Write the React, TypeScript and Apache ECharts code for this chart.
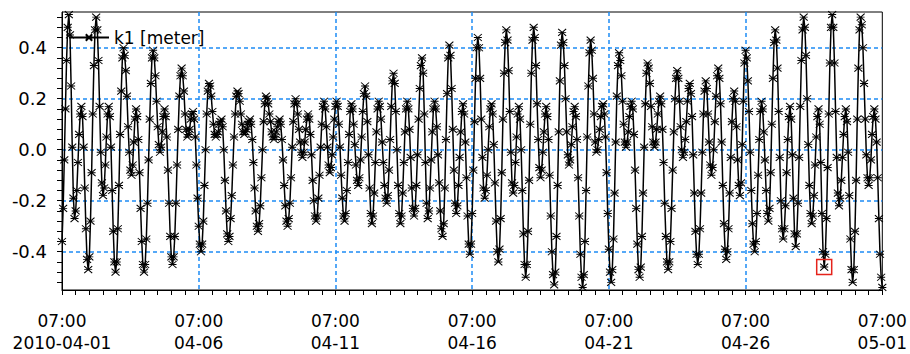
import React, { useEffect, useRef } from "react";
import * as echarts from "echarts";

// ---- data ----
const seriesName = "k1 [meter]";
// hourly water level from 2010-04-01 07:00 (hour 0) to 2010-05-01 07:00 (hour 720)
const k1Level: number[] = [
  -0.36, -0.23, -0.04, 0.16, 0.35, 0.48, 0.53, 0.45, 0.25, 0.01, -0.19, -0.27, -0.24, -0.16, -0.05, 0.06, 0.14, 0.17, 0.13, 0.01, -0.15, -0.31, -0.43, -0.47,
  -0.42, -0.28, -0.09, 0.14, 0.33, 0.47, 0.52, 0.47, 0.35, 0.17, -0.01, -0.13, -0.18, -0.15, -0.06, 0.05, 0.14, 0.17, 0.13, 0.01, -0.16, -0.32, -0.44, -0.48,
  -0.44, -0.31, -0.14, 0.06, 0.23, 0.36, 0.40, 0.37, 0.31, 0.21, 0.09, -0.01, -0.08, -0.10, -0.06, 0.03, 0.12, 0.16, 0.13, 0.04, -0.09, -0.23, -0.36, -0.45,
  -0.48, -0.45, -0.35, -0.21, -0.04, 0.12, 0.26, 0.36, 0.39, 0.36, 0.29, 0.19, 0.09, 0.02, -0.01, 0.01, 0.07, 0.13, 0.16, 0.13, 0.05, -0.08, -0.21, -0.34,
  -0.42, -0.45, -0.42, -0.34, -0.21, -0.06, 0.08, 0.21, 0.29, 0.32, 0.29, 0.23, 0.14, 0.08, 0.05, 0.06, 0.08, 0.12, 0.14, 0.15, 0.12, 0.05, -0.06, -0.19,
  -0.30, -0.37, -0.40, -0.37, -0.28, -0.14, 0.00, 0.14, 0.23, 0.26, 0.25, 0.21, 0.15, 0.10, 0.06, 0.05, 0.06, 0.07, 0.10, 0.11, 0.12, 0.09, 0.00, -0.12,
  -0.24, -0.33, -0.36, -0.34, -0.27, -0.18, -0.06, 0.05, 0.14, 0.21, 0.23, 0.22, 0.19, 0.14, 0.10, 0.07, 0.06, 0.07, 0.08, 0.10, 0.11, 0.12, 0.10, 0.04,
  -0.05, -0.15, -0.24, -0.30, -0.32, -0.29, -0.22, -0.11, 0.00, 0.11, 0.18, 0.21, 0.20, 0.18, 0.14, 0.11, 0.07, 0.05, 0.04, 0.05, 0.07, 0.09, 0.11, 0.12,
  0.10, 0.04, -0.04, -0.14, -0.22, -0.28, -0.30, -0.27, -0.21, -0.11, 0.01, 0.11, 0.18, 0.20, 0.18, 0.14, 0.08, 0.03, -0.01, -0.03, -0.01, 0.03, 0.08, 0.12,
  0.14, 0.12, 0.06, -0.02, -0.12, -0.20, -0.26, -0.28, -0.26, -0.19, -0.10, 0.01, 0.10, 0.17, 0.19, 0.16, 0.09, 0.01, -0.06, -0.09, -0.07, -0.02, 0.05, 0.12,
  0.17, 0.19, 0.17, 0.10, 0.01, -0.10, -0.19, -0.26, -0.28, -0.25, -0.16, -0.05, 0.06, 0.15, 0.18, 0.16, 0.10, 0.02, -0.06, -0.12, -0.14, -0.11, -0.04, 0.05,
  0.15, 0.22, 0.25, 0.21, 0.11, -0.02, -0.15, -0.25, -0.29, -0.26, -0.17, -0.05, 0.07, 0.16, 0.19, 0.17, 0.12, 0.03, -0.05, -0.14, -0.19, -0.21, -0.18, -0.08,
  0.04, 0.17, 0.27, 0.30, 0.26, 0.15, 0.00, -0.14, -0.25, -0.29, -0.26, -0.17, -0.05, 0.07, 0.16, 0.19, 0.16, 0.08, -0.03, -0.15, -0.23, -0.26, -0.23, -0.14,
  -0.02, 0.12, 0.24, 0.33, 0.36, 0.30, 0.14, -0.05, -0.21, -0.27, -0.24, -0.15, -0.04, 0.07, 0.16, 0.19, 0.16, 0.09, -0.02, -0.13, -0.24, -0.31, -0.34, -0.29,
  -0.15, 0.04, 0.22, 0.36, 0.41, 0.37, 0.24, 0.08, -0.08, -0.21, -0.25, -0.22, -0.14, -0.03, 0.07, 0.15, 0.18, 0.14, 0.03, -0.11, -0.26, -0.37, -0.41, -0.37,
  -0.25, -0.08, 0.11, 0.28, 0.40, 0.44, 0.40, 0.28, 0.12, -0.03, -0.15, -0.19, -0.16, -0.10, 0.00, 0.09, 0.16, 0.18, 0.14, 0.02, -0.13, -0.28, -0.40, -0.44,
  -0.39, -0.27, -0.09, 0.12, 0.30, 0.42, 0.47, 0.43, 0.31, 0.15, -0.01, -0.13, -0.17, -0.14, -0.05, 0.05, 0.14, 0.17, 0.12, 0.00, -0.16, -0.33, -0.45, -0.50,
  -0.45, -0.32, -0.12, 0.10, 0.30, 0.43, 0.48, 0.44, 0.33, 0.18, 0.04, -0.07, -0.11, -0.08, -0.01, 0.07, 0.14, 0.17, 0.13, 0.04, -0.10, -0.26, -0.40, -0.49,
  -0.53, -0.48, -0.34, -0.14, 0.07, 0.27, 0.41, 0.46, 0.42, 0.33, 0.20, 0.07, -0.02, -0.06, -0.04, 0.02, 0.09, 0.15, 0.17, 0.13, 0.04, -0.11, -0.26, -0.41,
  -0.50, -0.54, -0.49, -0.36, -0.16, 0.05, 0.25, 0.38, 0.43, 0.39, 0.28, 0.14, 0.03, -0.01, 0.00, 0.04, 0.08, 0.13, 0.17, 0.18, 0.14, 0.05, -0.09, -0.25,
  -0.39, -0.48, -0.52, -0.47, -0.35, -0.17, 0.03, 0.21, 0.33, 0.38, 0.35, 0.29, 0.19, 0.10, 0.03, 0.01, 0.03, 0.07, 0.13, 0.17, 0.19, 0.16, 0.06, -0.08,
  -0.23, -0.37, -0.47, -0.50, -0.46, -0.34, -0.17, 0.01, 0.18, 0.30, 0.34, 0.32, 0.26, 0.17, 0.09, 0.03, 0.01, 0.03, 0.08, 0.14, 0.19, 0.21, 0.18, 0.08,
  -0.05, -0.21, -0.34, -0.44, -0.47, -0.44, -0.36, -0.23, -0.08, 0.07, 0.20, 0.28, 0.31, 0.28, 0.19, 0.09, 0.00, -0.03, -0.01, 0.04, 0.11, 0.19, 0.24, 0.26,
  0.22, 0.13, -0.02, -0.17, -0.32, -0.41, -0.45, -0.41, -0.31, -0.17, -0.01, 0.14, 0.23, 0.27, 0.24, 0.14, 0.03, -0.06, -0.10, -0.07, 0.00, 0.11, 0.21, 0.29,
  0.32, 0.28, 0.18, 0.03, -0.14, -0.29, -0.39, -0.43, -0.40, -0.31, -0.17, -0.03, 0.11, 0.20, 0.23, 0.19, 0.09, -0.04, -0.14, -0.18, -0.13, 0.02, 0.19, 0.34,
  0.39, 0.36, 0.27, 0.15, -0.01, -0.16, -0.29, -0.37, -0.40, -0.36, -0.25, -0.10, 0.04, 0.15, 0.19, 0.16, 0.07, -0.04, -0.16, -0.25, -0.28, -0.23, -0.09, 0.10,
  0.28, 0.42, 0.47, 0.43, 0.32, 0.15, -0.03, -0.20, -0.31, -0.35, -0.31, -0.22, -0.09, 0.04, 0.13, 0.17, 0.12, -0.02, -0.19, -0.33, -0.38, -0.33, -0.21, -0.03,
  0.17, 0.35, 0.47, 0.52, 0.48, 0.37, 0.20, 0.02, -0.14, -0.25, -0.29, -0.26, -0.18, -0.06, 0.05, 0.13, 0.16, 0.10, -0.05, -0.25, -0.40, -0.46, -0.41, -0.27,
  -0.07, 0.14, 0.34, 0.48, 0.53, 0.48, 0.34, 0.15, -0.03, -0.17, -0.22, -0.19, -0.12, -0.03, 0.06, 0.13, 0.16, 0.11, -0.01, -0.18, -0.35, -0.47, -0.52, -0.47,
  -0.32, -0.12, 0.12, 0.32, 0.47, 0.52, 0.49, 0.40, 0.26, 0.12, -0.02, -0.11, -0.14, -0.11, -0.04, 0.06, 0.13, 0.16, 0.12, 0.03, -0.11, -0.27, -0.41, -0.50,
  -0.54,
];

// x axis tick labels (every 5 days at 07:00)
const tickTimes = ["07:00", "07:00", "07:00", "07:00", "07:00", "07:00", "07:00"];
const tickDates = ["2010-04-01", "04-06", "04-11", "04-16", "04-21", "04-26", "05-01"];
const hoursPerMajorTick = 120;
const totalHours = 720;

// y axis
const yMin = -0.55;
const yMax = 0.54;
const yLabelValues = [-0.4, -0.2, 0, 0.2, 0.4];
const yMinorTickValues = [
  -0.52, -0.48, -0.44, -0.4, -0.36, -0.32, -0.28, -0.24, -0.2, -0.16, -0.12, -0.08, -0.04, 0,
  0.04, 0.08, 0.12, 0.16, 0.2, 0.24, 0.28, 0.32, 0.36, 0.4, 0.44, 0.48, 0.52,
];

// the highlighted (red square) sample
const highlightHour = 669;

const FONT = "DejaVu Sans";
const GRID_BLUE = "#1e8cf5";
const markerPath = "path://M0,0L8,7M8,0L0,7M0,3.5L8,3.5";

export default function App() {
  const ref = useRef<HTMLDivElement>(null);

  useEffect(() => {
    if (!ref.current) return;
    const chart = echarts.init(ref.current, undefined, { renderer: "svg" });
    const data = k1Level.map((v, i) => [i, v]);
    const gridLine = { color: GRID_BLUE, type: [4, 3], width: 1.5, opacity: 1 };

    const option: any = {
      animation: false,
      backgroundColor: "#ffffff",
      grid: {
        left: 62,
        right: 25,
        top: 12,
        bottom: 60,
        show: true,
        borderColor: "#000",
        borderWidth: 1,
        backgroundColor: "transparent",
      },
      legend: {
        show: true,
        left: 63,
        top: 24,
        itemWidth: 40,
        itemHeight: 8,
        data: [seriesName],
        textStyle: { color: "#000", fontFamily: FONT, fontSize: 17 },
      },
      xAxis: {
        type: "value",
        min: 0,
        max: totalHours,
        interval: hoursPerMajorTick,
        axisLine: { show: true, onZero: false, lineStyle: { color: "#000", width: 1 } },
        axisTick: { show: true, length: 5, lineStyle: { color: "#000", width: 1 } },
        minorTick: { show: true, splitNumber: 10, length: 5, lineStyle: { color: "#000", width: 1 } },
        splitLine: {
          show: true,
          showMinLine: false,
          showMaxLine: false,
          lineStyle: gridLine,
        },
        axisLabel: {
          show: true,
          showMinLabel: true,
          showMaxLabel: true,
          color: "#000",
          fontFamily: FONT,
          fontSize: 17,
          lineHeight: 22,
          margin: 20,
          formatter: (v: number) => {
            const i = Math.round(v / hoursPerMajorTick);
            return tickTimes[i] + "\n" + tickDates[i];
          },
        },
      },
      yAxis: [
        {
          type: "value",
          min: yMin,
          max: yMax,
          position: "left",
          axisLine: { show: true, onZero: false, lineStyle: { color: "#000", width: 1 } },
          axisTick: { show: false },
          splitLine: {
            show: true,
            showMinLine: false,
            showMaxLine: false,
            lineStyle: gridLine,
          },
          axisLabel: {
            show: true,
            customValues: yLabelValues,
            color: "#000",
            fontFamily: FONT,
            fontSize: 18,
            margin: 15,
            formatter: (v: number) => v.toFixed(1),
          },
        },
        {
          type: "value",
          min: yMin,
          max: yMax,
          position: "left",
          axisLine: { show: false },
          splitLine: { show: false },
          axisLabel: { show: false },
          axisTick: {
            show: true,
            customValues: yMinorTickValues,
            length: 5,
            lineStyle: { color: "#000", width: 1 },
          },
        },
      ],
      series: [
        {
          name: seriesName,
          type: "line",
          xAxisIndex: 0,
          yAxisIndex: 0,
          data,
          symbol: markerPath,
          symbolSize: [8, 7],
          showAllSymbol: true,
          z: 3,
          lineStyle: { color: "#000", width: 1.5 },
          itemStyle: { color: "#000", borderColor: "#000", borderWidth: 1 },
          emphasis: { disabled: true },
          markPoint: {
            silent: true,
            symbol: "rect",
            symbolSize: 15,
            label: { show: false },
            itemStyle: { color: "transparent", borderColor: "#e5231b", borderWidth: 1.5 },
            data: [{ coord: [highlightHour, k1Level[highlightHour]] }],
          },
        },
      ],
    };

    chart.setOption(option);
    return () => {
      chart.dispose();
    };
  }, []);

  return (
    <div
      ref={ref}
      style={{ position: "fixed", left: 0, top: 0, width: 910, height: 354, background: "#fff" }}
    />
  );
}
